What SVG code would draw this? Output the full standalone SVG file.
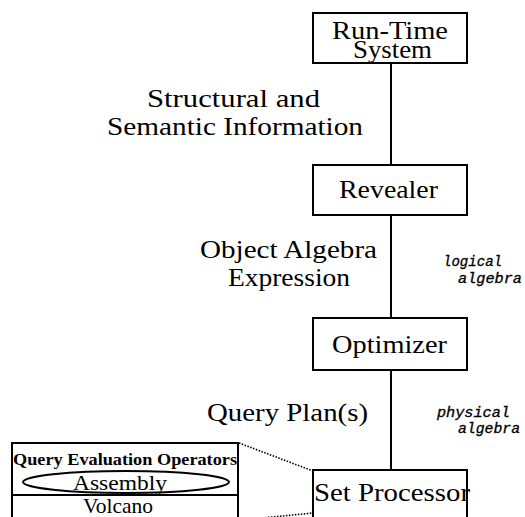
<svg xmlns="http://www.w3.org/2000/svg" width="525" height="517" viewBox="0 0 525 517">
<style>
.box{fill:#fff;stroke:#000;stroke-width:2}
.ln{stroke:#000;stroke-width:2;fill:none}
.dot{stroke:#000;stroke-width:1.6;stroke-dasharray:1.5 1.5;fill:none}
.t{font-family:"Liberation Serif","DejaVu Serif",serif;font-size:26px;fill:#000}
.s{font-family:"Liberation Serif","DejaVu Serif",serif;font-size:22px;fill:#000}
.b{font-family:"Liberation Serif","DejaVu Serif",serif;font-size:17px;font-weight:bold;fill:#000}
.m{font-family:"Liberation Mono","DejaVu Sans Mono",monospace;font-size:14px;font-style:italic;fill:#000;stroke:#000;stroke-width:0.3}
</style>
<rect width="525" height="517" fill="#fff"/>
<g id="connectors">
<line class="ln" x1="391" y1="63" x2="391" y2="165"/>
<line class="ln" x1="391" y1="215" x2="391" y2="318"/>
<line class="ln" x1="391" y1="370" x2="391" y2="470"/>
<line class="dot" x1="239" y1="443" x2="313" y2="471"/>
<line class="dot" x1="262" y1="518" x2="313" y2="513"/>
</g>
<g id="runtime">
<rect class="box" x="313" y="13" width="154" height="50"/>
<text class="t" x="332" y="39" textLength="116" lengthAdjust="spacingAndGlyphs">Run-Time</text>
<text class="t" x="353" y="58" textLength="79" lengthAdjust="spacingAndGlyphs">System</text>
</g>
<g id="label-structural">
<text class="t" x="147" y="107" textLength="173" lengthAdjust="spacingAndGlyphs">Structural and</text>
<text class="t" x="107" y="135" textLength="256" lengthAdjust="spacingAndGlyphs">Semantic Information</text>
</g>
<g id="revealer">
<rect class="box" x="313" y="165" width="154" height="50"/>
<text class="t" x="339" y="198" textLength="99" lengthAdjust="spacingAndGlyphs">Revealer</text>
</g>
<g id="label-object">
<text class="t" x="200" y="258" textLength="177" lengthAdjust="spacingAndGlyphs">Object Algebra</text>
<text class="t" x="228" y="286" textLength="122" lengthAdjust="spacingAndGlyphs">Expression</text>
</g>
<g id="label-logical">
<text class="m" x="443" y="266" textLength="59" lengthAdjust="spacingAndGlyphs">logical</text>
<text class="m" x="458" y="283" textLength="64" lengthAdjust="spacingAndGlyphs">algebra</text>
</g>
<g id="optimizer">
<rect class="box" x="313" y="318" width="154" height="52"/>
<text class="t" x="332" y="353" textLength="115" lengthAdjust="spacingAndGlyphs">Optimizer</text>
</g>
<g id="label-plan">
<text class="t" x="207" y="421" textLength="161" lengthAdjust="spacingAndGlyphs">Query Plan(s)</text>
</g>
<g id="label-physical">
<text class="m" x="437" y="417" textLength="73" lengthAdjust="spacingAndGlyphs">physical</text>
<text class="m" x="458" y="433" textLength="62" lengthAdjust="spacingAndGlyphs">algebra</text>
</g>
<g id="setprocessor">
<rect class="box" x="313" y="470" width="154" height="60"/>
<text class="t" x="314" y="501" textLength="156" lengthAdjust="spacingAndGlyphs">Set Processor</text>
</g>
<g id="operators">
<rect class="box" x="12" y="443" width="226" height="90"/>
<line class="ln" x1="12" y1="495" x2="238" y2="495"/>
<text class="b" x="13" y="465" textLength="224" lengthAdjust="spacingAndGlyphs">Query Evaluation Operators</text>
<ellipse cx="126" cy="482" rx="103" ry="11" fill="none" stroke="#000" stroke-width="2"/>
<text class="s" x="73" y="490" textLength="94" lengthAdjust="spacingAndGlyphs">Assembly</text>
<text class="s" x="83" y="513" textLength="70" lengthAdjust="spacingAndGlyphs">Volcano</text>
</g>
</svg>
